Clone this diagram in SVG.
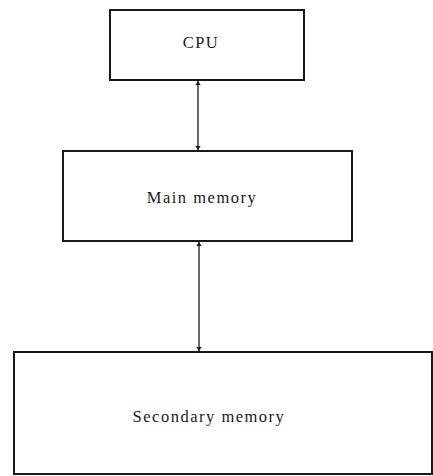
<svg xmlns="http://www.w3.org/2000/svg" width="433" height="476" viewBox="0 0 433 476">
  <style>
    .box { fill: #ffffff; stroke: #1a1a1a; stroke-width: 2; }
    .label { font-family: "Liberation Serif", "Times New Roman", serif; font-size: 16.5px; fill: #1a1a1a; text-anchor: middle; letter-spacing: 1.5px; }
    .link { stroke: #1a1a1a; stroke-width: 1.3; fill: none; marker-start: url(#head); marker-end: url(#head); }
  </style>
  <defs>
    <marker id="head" viewBox="0 0 6 10" refX="6" refY="5" markerWidth="4" markerHeight="8" markerUnits="userSpaceOnUse" orient="auto-start-reverse">
      <path d="M0,1 L6,5 L0,9 Z" fill="#1a1a1a"/>
    </marker>
  </defs>
  <rect width="433" height="476" fill="#ffffff"/>
  <g id="connectors">
    <line class="link" x1="198" y1="81" x2="198" y2="150"/>
    <line class="link" x1="199" y1="242" x2="199" y2="351"/>
  </g>
  <g id="cpu">
    <rect class="box" x="110" y="10" width="194" height="70"/>
    <text class="label" x="201" y="48">CPU</text>
  </g>
  <g id="main-memory">
    <rect class="box" x="63" y="151" width="289" height="90"/>
    <text class="label" x="202" y="203">Main memory</text>
  </g>
  <g id="secondary-memory">
    <rect class="box" x="14" y="352" width="418" height="122"/>
    <text class="label" x="209" y="422">Secondary memory</text>
  </g>
</svg>
